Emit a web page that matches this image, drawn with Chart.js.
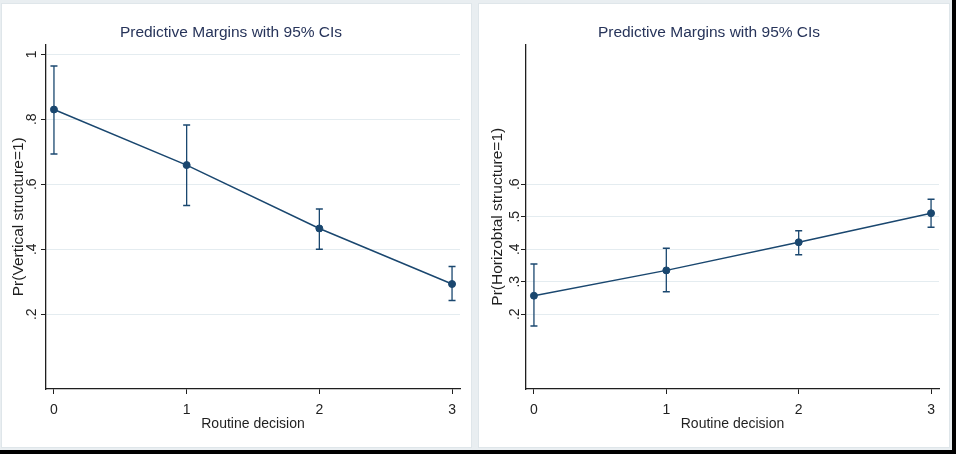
<!DOCTYPE html>
<html>
<head>
<meta charset="utf-8">
<script src="https://cdn.jsdelivr.net/npm/chart.js@4.4.1/dist/chart.umd.min.js"></script>
<style>
  html, body { margin: 0; padding: 0; background: #000; }
  #frame { position: absolute; left: 0; top: 0; width: 952px; height: 450px; background: #e9eef1; }
  .panel { position: absolute; top: 4px; height: 443px; background: #fff; box-shadow: 0 0 0 1px #dfe6ea; }
  #p1 { left: 2px; width: 469px; }
  #p2 { left: 479px; width: 470px; }
  canvas { display: block; }
</style>
</head>
<body>
<div id="frame">
  <div class="panel" id="p1"><canvas id="c1" width="469" height="443"></canvas></div>
  <div class="panel" id="p2"><canvas id="c2" width="470" height="443"></canvas></div>
</div>
<script>
// Routine decision levels (x axis)
const routineLevels = [0, 1, 2, 3];
const xTickLabels = ['0', '1', '2', '3'];

// Pr(Vertical structure=1): margins and 95% CI bounds
const verticalMargin = [0.830, 0.659, 0.464, 0.293];
const verticalLower  = [0.693, 0.535, 0.400, 0.242];
const verticalUpper  = [0.964, 0.782, 0.524, 0.347];
const verticalYTicks = [0.2, 0.4, 0.6, 0.8, 1];
const verticalYTickLabels = ['.2', '.4', '.6', '.8', '1'];

// Pr(Horizobtal structure=1): margins and 95% CI bounds
const horizontalMargin = [0.257, 0.335, 0.4215, 0.511];
const horizontalLower  = [0.164, 0.269, 0.383, 0.468];
const horizontalUpper  = [0.355, 0.403, 0.457, 0.554];
const horizontalYTicks = [0.2, 0.3, 0.4, 0.5, 0.6];
const horizontalYTickLabels = ['.2', '.3', '.4', '.5', '.6'];

const titleText = 'Predictive Margins with 95% CIs';
const xTitle = 'Routine decision';

const NAVY = '#1a476f';
const INK = '#1f1f1f';
const GRID = '#e4ecf0';
const NARROW = "'Liberation Sans Narrow', 'Arial Narrow', 'Liberation Sans', Arial, sans-serif";
const REGULAR = "'Liberation Sans', Arial, sans-serif";

function makePanel(canvasId, margin, lower, upper, yTicks, yLabels, yTitle, cfg) {
  // whisker segments: lower -> upper at each level, separated by gaps
  const whiskers = [];
  routineLevels.forEach((x, i) => {
    whiskers.push({ x: x, y: lower[i] });
    whiskers.push({ x: x, y: upper[i] });
    whiskers.push({ x: x, y: null });
  });

  return new Chart(document.getElementById(canvasId), {
    type: 'line',
    data: {
      datasets: [
        {
          data: routineLevels.map((x, i) => ({ x: x, y: margin[i] })),
          borderColor: NAVY,
          borderWidth: 1.5,
          pointRadius: 3.5,
          pointBorderWidth: 1,
          pointBackgroundColor: NAVY,
          pointBorderColor: NAVY,
          tension: 0
        },
        {
          data: whiskers,
          borderColor: NAVY,
          borderWidth: 1.3,
          spanGaps: false,
          pointStyle: 'line',
          pointRadius: 3.5,
          pointBorderWidth: 1.5,
          pointBorderColor: NAVY,
          tension: 0
        }
      ]
    },
    options: {
      responsive: false,
      animation: false,
      events: [],
      layout: { padding: { left: 0, right: cfg.rightPad, top: 0, bottom: 0 } },
      plugins: {
        legend: { display: false },
        tooltip: { enabled: false },
        title: {
          display: true,
          text: titleText,
          color: '#27345a',
          font: { family: NARROW, size: 15.5, weight: 'normal' },
          padding: { top: 19.7, bottom: 2.2 }
        }
      },
      scales: {
        x: {
          type: 'linear',
          min: -0.06,
          max: 3.06,
          afterBuildTicks: s => { s.ticks = routineLevels.map(v => ({ value: v })); },
          afterFit: s => { s.height = 58; },
          ticks: {
            callback: (v, i) => xTickLabels[i],
            maxRotation: 0,
            padding: 8,
            color: INK,
            font: { family: NARROW, size: 14 }
          },
          grid: { drawOnChartArea: false, tickLength: 5, tickColor: INK, tickWidth: 1 },
          border: { color: INK, width: 1.3 },
          title: {
            display: true,
            text: xTitle,
            color: INK,
            font: { family: NARROW, size: 14 },
            padding: { top: 0, bottom: 14 }
          }
        },
        y: {
          type: 'linear',
          min: -0.03,
          max: 1.03,
          afterBuildTicks: s => { s.ticks = yTicks.map(v => ({ value: v })); },
          afterFit: s => { s.width = cfg.yAxisWidth; },
          ticks: {
            callback: (v, i) => yLabels[i],
            minRotation: 90,
            maxRotation: 90,
            crossAlign: 'center',
            padding: cfg.yTickPad,
            color: INK,
            font: { family: NARROW, size: 14 }
          },
          grid: { color: GRID, lineWidth: 1, tickLength: 5, tickColor: INK, tickWidth: 1 },
          border: { color: INK, width: 1.3 },
          title: {
            display: true,
            text: yTitle,
            color: INK,
            font: { family: REGULAR, size: 15.5 },
            padding: { top: cfg.yTitlePad, bottom: 0 }
          }
        }
      }
    }
  });
}

makePanel('c1', verticalMargin, verticalLower, verticalUpper,
  verticalYTicks, verticalYTickLabels, 'Pr(Vertical structure=1)',
  { yAxisWidth: 44, rightPad: 11, yTickPad: 3, yTitlePad: 7 });

makePanel('c2', horizontalMargin, horizontalLower, horizontalUpper,
  horizontalYTicks, horizontalYTickLabels, 'Pr(Horizobtal structure=1)',
  { yAxisWidth: 47, rightPad: 10, yTickPad: 0, yTitlePad: 9 });
</script>
</body>
</html>
